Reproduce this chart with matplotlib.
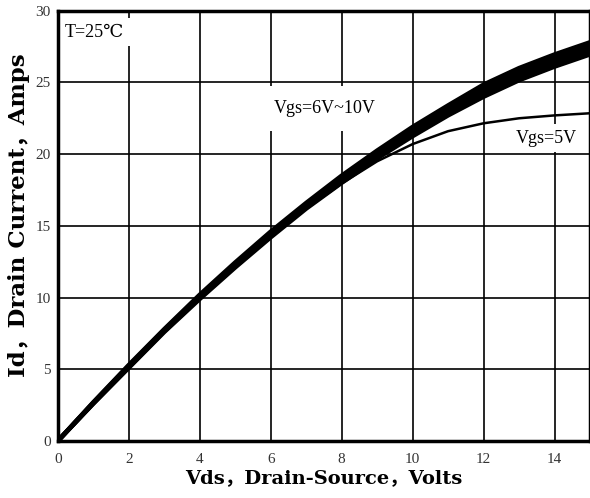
import matplotlib
matplotlib.use("Agg")
import matplotlib.pyplot as plt

vds = [0, 1, 2, 3, 4, 5, 6, 7, 8, 9, 10, 11, 12, 13, 14, 15]
id_6v = [0, 2.6, 5.1, 7.6, 9.9, 12.1, 14.2, 16.2, 18.0, 19.7, 21.25, 22.7, 24.0, 25.15, 26.1, 26.95]
id_7v = [0, 2.62, 5.15, 7.65, 9.97, 12.18, 14.3, 16.3, 18.12, 19.84, 21.41, 22.88, 24.21, 25.36, 26.31, 27.16]
id_8v = [0, 2.65, 5.2, 7.7, 10.05, 12.27, 14.4, 16.4, 18.25, 19.97, 21.57, 23.05, 24.42, 25.58, 26.52, 27.37]
id_9v = [0, 2.67, 5.25, 7.75, 10.12, 12.36, 14.5, 16.5, 18.37, 20.11, 21.73, 23.22, 24.63, 25.79, 26.73, 27.58]
id_10v = [0, 2.7, 5.3, 7.8, 10.2, 12.45, 14.6, 16.6, 18.5, 20.25, 21.9, 23.4, 24.85, 26.0, 26.95, 27.8]
id_5v = [0, 2.6, 5.1, 7.6, 9.9, 12.1, 14.2, 16.2, 17.95, 19.5, 20.7, 21.6, 22.15, 22.5, 22.7, 22.85]

xticks = [0, 2, 4, 6, 8, 10, 12, 14]
yticks = [0, 5, 10, 15, 20, 25, 30]

serif = ['Liberation Serif', 'DejaVu Serif', 'Noto Sans CJK SC']
label_font = ['DejaVu Serif', 'Noto Sans CJK SC']
plt.rcParams['font.family'] = serif

fig = plt.figure(figsize=(5.9, 4.98), dpi=100)
ax = fig.add_axes([0.098, 0.1145, 0.902, 0.864])

for xv in xticks[1:]:
    ax.axvline(xv, color='black', lw=1.2, zorder=1)
for yv in yticks[1:-1]:
    ax.axhline(yv, color='black', lw=1.2, zorder=1)

for s in [id_6v, id_7v, id_8v, id_9v, id_10v]:
    ax.plot(vds, s, color='black', lw=3.2, solid_capstyle='round', zorder=4)
ax.plot(vds, id_5v, color='black', lw=1.8, zorder=4)

ax.set_xlim(0, 15)
ax.set_ylim(0, 30)
ax.set_xticks(xticks)
ax.set_yticks(yticks)
ax.tick_params(axis='x', length=0, labelsize=11, labelcolor='#333333', pad=9)
ax.tick_params(axis='y', length=0, labelsize=11, labelcolor='#333333', pad=5)
for sp in ax.spines.values():
    sp.set_linewidth(2.5)
    sp.set_zorder(6)

ax.set_xlabel('Vds，Drain-Source，Volts', fontsize=14, fontweight='bold',
              family=label_font, labelpad=2)
ax.set_ylabel('Id，Drain Current，Amps', fontsize=16.5, fontweight='bold',
              family=label_font)
ax.yaxis.set_label_coords(-0.052, 0.526)

box = dict(facecolor='white', edgecolor='none', pad=4)
ax.text(0.2, 28.5, 'T=25℃', fontsize=13, va='center', ha='left', bbox=box, zorder=3)
ax.text(6.1, 23.2, 'Vgs=6V~10V', fontsize=13, va='center', ha='left',
        bbox=dict(facecolor='white', edgecolor='none', pad=10), zorder=3)
ax.text(12.9, 21.1, 'Vgs=5V', fontsize=13, va='center', ha='left', bbox=box, zorder=3)

fig.savefig('out.png', dpi=100)
